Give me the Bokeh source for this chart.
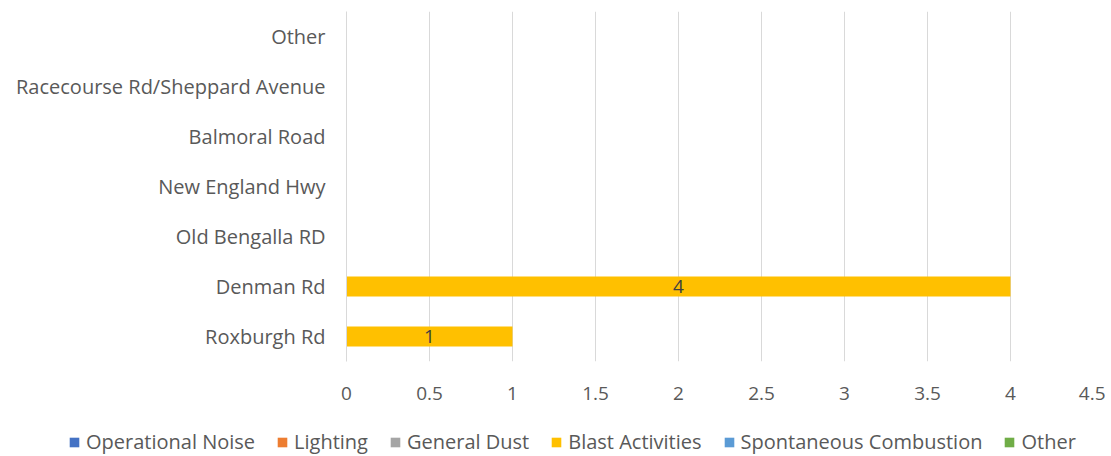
from bokeh.plotting import figure
from bokeh.layouts import column
from bokeh.models import (Range1d, FactorRange, ColumnDataSource, Legend, LegendItem,
                          FixedTicker, CustomJSTickFormatter, LabelSet)
from bokeh.core.properties import value
from bokeh.embed import file_html
from bokeh.resources import INLINE

locations = ["Roxburgh Rd", "Denman Rd", "Old Bengalla RD", "New England Hwy",
             "Balmoral Road", "Racecourse Rd/Sheppard Avenue", "Other"]
series = ["Operational Noise", "Lighting", "General Dust", "Blast Activities",
          "Spontaneous Combustion", "Other"]
colors = ["#4472C4", "#ED7D31", "#A5A5A5", "#FFC000", "#5B9BD5", "#70AD47"]
operational_noise = [0, 0, 0, 0, 0, 0, 0]
lighting = [0, 0, 0, 0, 0, 0, 0]
general_dust = [0, 0, 0, 0, 0, 0, 0]
blast_activities = [1, 4, 0, 0, 0, 0, 0]
spontaneous_combustion = [0, 0, 0, 0, 0, 0, 0]
other = [0, 0, 0, 0, 0, 0, 0]
x_ticks = [0, 0.5, 1, 1.5, 2, 2.5, 3, 3.5, 4, 4.5]

values = [operational_noise, lighting, general_dust, blast_activities,
          spontaneous_combustion, other]
keys = ["s%d" % i for i in range(len(series))]
data = {"loc": locations}
for k, v in zip(keys, values):
    data[k] = v
src = ColumnDataSource(data)

FONT = "Open Sans"
GRAY = "#595959"

p = figure(width=1105, height=406, output_backend="svg", toolbar_location=None,
           y_range=FactorRange(*locations), x_range=Range1d(0, 4.5),
           min_border_left=346, min_border_right=12, min_border_top=11,
           min_border_bottom=45)
p.outline_line_color = None
p.y_range.range_padding = 0

rs = p.hbar_stack(keys, y="loc", height=0.4, color=colors, source=src,
                  line_color=None)

# data labels for non-zero segments
lx, ly, lt = [], [], []
for i, loc in enumerate(locations):
    cum = 0
    for v in values:
        if v[i] > 0:
            lx.append(cum + v[i] / 2)
            ly.append(loc)
            lt.append(str(v[i]))
        cum += v[i]
lsrc = ColumnDataSource(dict(x=lx, y=ly, t=lt))
p.add_layout(LabelSet(x="x", y="y", text="t", source=lsrc, text_align="center",
                      text_baseline="middle", text_font=value(FONT),
                      text_font_size="19px", text_color="#404040"))

p.xgrid.ticker = FixedTicker(ticks=x_ticks)
p.xgrid.grid_line_color = "#d9d9d9"
p.ygrid.grid_line_color = None

p.xaxis.ticker = FixedTicker(ticks=x_ticks)
p.xaxis.formatter = CustomJSTickFormatter(code="return tick.toString();")
p.xaxis.axis_line_color = None
p.xaxis.major_tick_line_color = None
p.xaxis.minor_tick_line_color = None
p.xaxis.major_label_text_font = FONT
p.xaxis.major_label_text_font_size = "19px"
p.xaxis.major_label_text_color = GRAY
p.xaxis.major_label_standoff = 19

p.yaxis.axis_line_color = "#d9d9d9"
p.yaxis.major_tick_line_color = None
p.yaxis.minor_tick_line_color = None
p.yaxis.major_tick_out = 0
p.yaxis.major_label_text_font = FONT
p.yaxis.major_label_text_font_size = "20px"
p.yaxis.major_label_text_color = GRAY
p.yaxis.major_label_standoff = 21

# legend strip below the chart (zero-width proxy bars carry the legend swatches)
p2 = figure(width=1105, height=49, output_backend="svg", toolbar_location=None,
            y_range=FactorRange(*locations), x_range=Range1d(0, 4.5),
            x_axis_location=None, y_axis_location=None,
            min_border_left=0, min_border_right=0, min_border_top=0,
            min_border_bottom=0)
p2.outline_line_color = None
p2.grid.visible = False
if hasattr(p, "frame_align"):
    p.frame_align = False
    p2.frame_align = False
proxy_src = ColumnDataSource(dict(y=[locations[0]], right=[0]))
proxies = [p2.hbar(y="y", right="right", height=0.4, fill_color=c,
                   line_color=None, source=proxy_src)
           for c in colors]

items = [LegendItem(label=s, renderers=[r]) for s, r in zip(series, proxies)]
legend = Legend(items=items, orientation="horizontal", location=(68, 0),
                label_text_font=FONT, label_text_font_size="20px",
                label_text_color=GRAY, glyph_width=12, glyph_height=12,
                spacing=21, label_standoff=6, border_line_color=None,
                background_fill_alpha=0, padding=0, margin=0)
p2.add_layout(legend, "center")

open("out.html", "w").write(file_html(column(p, p2), INLINE))
